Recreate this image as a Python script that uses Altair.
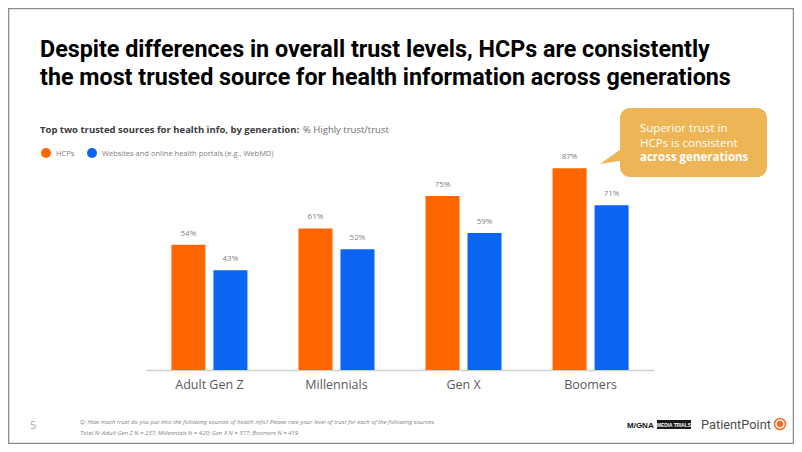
import altair as alt
import pandas as pd

# ---------------- data ----------------
generations = ["Adult Gen Z", "Millennials", "Gen X", "Boomers"]
series = ["HCPs", "Websites and online health portals (e.g., WebMD)"]
hcp_values = [54, 61, 75, 87]
web_values = [43, 52, 59, 71]
colors = ["#FF6600", "#0A66F2"]

title_lines = [
    "Despite differences in overall trust levels, HCPs are consistently",
    "the most trusted source for health information across generations",
]
subtitle_bold = "Top two trusted sources for health info, by generation:"
subtitle_rest = "% Highly trust/trust"
callout_lines = ["Superior trust in", "HCPs is consistent", "across generations"]
footnote_lines = [
    "Q: How much trust do you put into the following sources of health info? Please rate your level of trust for each of the following sources.",
    "Total N: Adult Gen Z N = 237; Millennials N = 420; Gen X N = 377; Boomers N = 419",
]
page_number = "5"

rows = []
for g, h, w in zip(generations, hcp_values, web_values):
    rows.append({"gen": g, "series": series[0], "value": h, "label": f"{h}%"})
    rows.append({"gen": g, "series": series[1], "value": w, "label": f"{w}%"})
df = pd.DataFrame(rows)

# ---------------- layout helpers ----------------
OX, OY = 146, 138          # page position of plot-area origin
W, H = 508, 232
BODY = "Open Sans"
TITLE = "Roboto"
one = pd.DataFrame({"k": [0]})


def txt(px, py, s, size=10, color="#000000", weight="normal", font=BODY,
        align="left", baseline="alphabetic", style="normal"):
    return alt.Chart(one).mark_text(
        text=s, fontSize=size, color=color, fontWeight=weight, font=font,
        align=align, baseline=baseline, fontStyle=style
    ).encode(x=alt.value(px - OX), y=alt.value(py - OY))


def rect(x1, y1, x2, y2, fill, stroke=None, radius=0, sw=0):
    kw = dict(fill=fill, cornerRadius=radius)
    if stroke:
        kw.update(stroke=stroke, strokeWidth=sw)
    return alt.Chart(one).mark_rect(**kw).encode(
        x=alt.value(x1 - OX), x2=alt.value(x2 - OX),
        y=alt.value(y1 - OY), y2=alt.value(y2 - OY))


def dot(px, py, size, color, shape="circle", stroke=None, sw=0):
    kw = dict(shape=shape, filled=True, color=color, opacity=1)
    if stroke:
        kw.update(stroke=stroke, strokeWidth=sw)
    return alt.Chart(one).mark_point(**kw).encode(
        x=alt.value(px - OX), y=alt.value(py - OY), size=alt.value(size))


layers = []

# slide frame
layers.append(rect(8.5, 8.5, 793.5, 443.5, "transparent", stroke="#8c8c8c", sw=1.5))

# title
layers.append(txt(40, 57, title_lines[0], size=23.3, weight="bold", font=TITLE))
layers.append(txt(40, 85, title_lines[1], size=23.3, weight="bold", font=TITLE))

# subtitle
layers.append(txt(40, 133, subtitle_bold, size=9.5, weight="bold", color="#3a3a3a"))
layers.append(txt(303, 133, subtitle_rest, size=9.5, color="#6b6b6b"))

# legend
layers.append(dot(46, 153, 100, colors[0]))
layers.append(txt(56, 156, series[0], size=7.5, color="#7f7f7f"))
layers.append(dot(92, 153, 100, colors[1]))
layers.append(txt(102, 156, series[1], size=7.5, color="#7f7f7f"))

# bars
x_enc = alt.X("gen:N", sort=generations,
              scale=alt.Scale(paddingInner=0.4016, paddingOuter=0.2),
              axis=alt.Axis(title=None, labelAngle=0, labelFontSize=12.5,
                            labelColor="#595959", labelFont=BODY,
                            domainColor="#d0d0d0", domainWidth=1.5,
                            ticks=False, labelPadding=8))
base = alt.Chart(df).encode(
    x=x_enc,
    xOffset=alt.XOffset("series:N", sort=series, scale=alt.Scale(paddingInner=0.19)),
    y=alt.Y("value:Q", scale=alt.Scale(domain=[0, 100]), axis=None),
)
bars = base.mark_bar().encode(
    color=alt.Color("series:N", sort=series,
                    scale=alt.Scale(domain=series, range=colors), legend=None))
labels = base.mark_text(dy=-7, baseline="bottom", fontSize=8, color="#7f7f7f",
                        font=BODY).encode(text="label:N")
layers += [bars, labels]

# callout
CALL = "#EDB555"
layers.append(rect(620, 108, 767, 177, CALL, radius=10))
layers.append(dot(611, 155, 484, CALL, shape="M -1 0.82 L 1.3 -0.82 L 1.3 0.45 Z"))
layers.append(txt(640, 132, callout_lines[0], size=11.5, color="#ffffff"))
layers.append(txt(640, 146.5, callout_lines[1], size=11.5, color="#ffffff"))
layers.append(txt(640, 161, callout_lines[2], size=11.5, color="#ffffff", weight="bold"))

# footer
layers.append(txt(30, 429, page_number, size=11, color="#a6a6a6"))
layers.append(txt(80, 424, footnote_lines[0], size=6, color="#7f7f7f", style="italic"))
layers.append(txt(80, 435, footnote_lines[1], size=6, color="#7f7f7f", style="italic"))

# logos
layers.append(txt(627, 427.5, "M/GNA", size=8, weight="bold", color="#111111", font="Liberation Sans"))
layers.append(rect(657, 420, 691, 429, "#1a1a1a"))
layers.append(txt(674, 426.8, "MEDIA TRIALS", size=4.8, color="#ffffff", weight="bold",
                  align="center", font="Liberation Sans"))
layers.append(txt(701, 429, "PatientPoint", size=12.8, color="#4d4d4d", font="Roboto"))
layers.append(dot(780, 424, 120, "#ffffff", stroke="#F26B21", sw=1.5))
layers.append(dot(780, 424, 40, "#F26B21"))

chart = alt.layer(*layers).properties(
    width=W, height=H,
    padding={"left": 138, "top": 130, "right": 140, "bottom": 74},
    autosize="none",
    background="#ffffff",
).configure_view(stroke=None)

chart.save("out.html", embed_options={"renderer": "svg", "actions": False})
